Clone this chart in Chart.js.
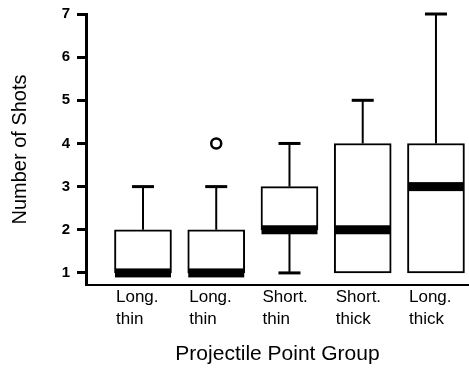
<!DOCTYPE html>
<html>
<head>
<meta charset="utf-8">
<script src="https://cdn.jsdelivr.net/npm/chart.js@4"></script>
<style>
  html, body { margin: 0; padding: 0; background: #fff; }
</style>
</head>
<body>
<canvas id="box" width="469" height="375"></canvas>
<script>
// groups along the x axis
var groups = [["Long.", "thin"], ["Long.", "thin"], ["Short.", "thin"], ["Short.", "thick"], ["Long.", "thick"]];
var groupPos = [1, 2, 3, 4, 5];

// box plot values
var lows = [1, 1, 1, 1, 1];
var q1 = [1, 1, 2, 1, 1];
var medians = [1, 1, 2, 2, 3];
var q3 = [2, 2, 3, 4, 4];
var highs = [3, 3, 4, 5, 7];
var outliers = [{ x: 2, y: 4 }];

var yTicks = [1, 2, 3, 4, 5, 6, 7];

var font = 'Arial, "Liberation Sans", Helvetica, sans-serif';

// whiskers, caps and the thick median band
var boxPlot = {
  id: "boxPlot",
  afterDatasetsDraw: function (chart) {
    var ctx = chart.ctx;
    var xs = chart.scales.x;
    var ys = chart.scales.y;
    ctx.save();
    ctx.strokeStyle = "#000";
    ctx.fillStyle = "#000";
    groupPos.forEach(function (g, i) {
      var cx = xs.getPixelForValue(g);
      ctx.lineWidth = 2;
      // upper whisker
      if (highs[i] > q3[i]) {
        ctx.beginPath();
        ctx.moveTo(cx, ys.getPixelForValue(q3[i]));
        ctx.lineTo(cx, ys.getPixelForValue(highs[i]));
        ctx.stroke();
        ctx.fillRect(cx - 11, ys.getPixelForValue(highs[i]) - 1.5, 22, 3);
      }
      // lower whisker
      if (lows[i] < q1[i]) {
        ctx.beginPath();
        ctx.moveTo(cx, ys.getPixelForValue(q1[i]));
        ctx.lineTo(cx, ys.getPixelForValue(lows[i]));
        ctx.stroke();
        ctx.fillRect(cx - 11, ys.getPixelForValue(lows[i]) - 1.5, 22, 3);
      }
      // median
      var my = ys.getPixelForValue(medians[i]);
      ctx.fillRect(cx - 28, my - 4.5, 56, 9);
    });
    ctx.restore();
  }
};

new Chart(document.getElementById("box").getContext("2d"), {
  type: "bar",
  data: {
    datasets: [
      {
        type: "bar",
        data: groupPos.map(function (g, i) { return { x: g, y: [q1[i], q3[i]] }; }),
        backgroundColor: "#fff",
        borderColor: "#000",
        borderWidth: 2,
        borderSkipped: false,
        barThickness: 57,
        order: 2
      },
      {
        type: "scatter",
        data: outliers,
        pointStyle: "circle",
        pointRadius: 5,
        pointBackgroundColor: "#fff",
        pointBorderColor: "#000",
        pointBorderWidth: 2.5,
        clip: false,
        order: 1
      }
    ]
  },
  options: {
    responsive: false,
    animation: false,
    layout: { autoPadding: false, padding: { top: 14, right: 0, bottom: 0, left: 0 } },
    plugins: {
      legend: { display: false },
      tooltip: { enabled: false }
    },
    scales: {
      x: {
        type: "linear",
        min: 0.222,
        max: 5.451,
        offset: false,
        grid: { display: true, drawOnChartArea: false, drawTicks: false, offset: false },
        border: { display: true, color: "#000", width: 2 },
        afterBuildTicks: function (scale) {
          scale.ticks = groupPos.map(function (v) { return { value: v }; });
        },
        afterFit: function (scale) {
          scale.height = 90;
          scale.paddingLeft = 0;
          scale.paddingRight = 0;
        },
        ticks: {
          color: "#000",
          align: "start",
          labelOffset: -27,
          padding: 2,
          maxRotation: 0,
          autoSkip: false,
          font: { family: font, size: 17, lineHeight: 1.25 },
          callback: function (value, index) { return groups[index]; }
        },
        title: {
          display: true,
          text: "Projectile Point Group",
          color: "#000",
          font: { family: font, size: 21 },
          padding: { top: 0, bottom: 8 }
        }
      },
      y: {
        min: 0.72,
        max: 7,
        grid: { display: true, drawOnChartArea: false, drawTicks: true, tickLength: 9, tickWidth: 3, tickColor: "#000" },
        border: { display: true, color: "#000", width: 3 },
        afterBuildTicks: function (scale) {
          scale.ticks = yTicks.map(function (v) { return { value: v }; });
        },
        afterFit: function (scale) {
          scale.width = 86;
          scale.paddingTop = 0;
          scale.paddingBottom = 0;
        },
        ticks: {
          color: "#000",
          padding: 7,
          font: { family: font, size: 15, weight: "bold" }
        },
        title: {
          display: true,
          text: "Number of Shots",
          color: "#000",
          font: { family: font, size: 20 },
          padding: { top: 8, bottom: 0 }
        }
      }
    }
  },
  plugins: [boxPlot]
});
</script>
</body>
</html>
